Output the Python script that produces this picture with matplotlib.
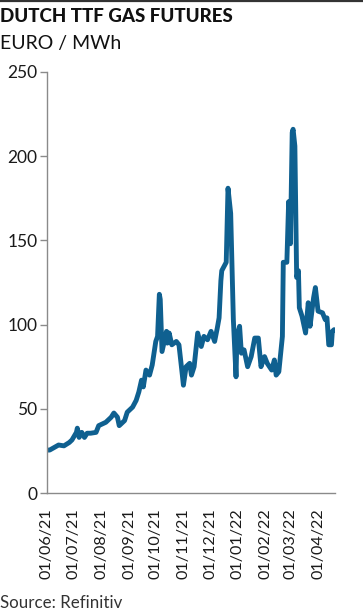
import numpy as np
import pandas as pd
import matplotlib
matplotlib.use("Agg")
import matplotlib.pyplot as plt
import matplotlib.dates as mdates
from matplotlib.lines import Line2D

plt.rcParams['font.family'] = ['Lato', 'DejaVu Sans']

# TTF front-month price, EUR/MWh
dates = ["2021-06-01", "2021-06-04", "2021-06-09", "2021-06-14", "2021-06-20", "2021-06-26",
         "2021-06-29", "2021-07-04", "2021-07-05", "2021-07-07", "2021-07-10", "2021-07-13",
         "2021-07-16", "2021-07-20", "2021-07-26", "2021-07-29", "2021-08-06", "2021-08-12",
         "2021-08-15", "2021-08-19", "2021-08-21", "2021-08-27", "2021-08-30", "2021-09-05",
         "2021-09-09", "2021-09-12", "2021-09-15", "2021-09-17", "2021-09-20", "2021-09-24",
         "2021-09-27", "2021-09-29", "2021-10-01", "2021-10-03", "2021-10-05", "2021-10-06",
         "2021-10-08", "2021-10-13", "2021-10-14", "2021-10-16", "2021-10-19", "2021-10-24",
         "2021-10-27", "2021-10-31", "2021-11-01", "2021-11-04", "2021-11-08", "2021-11-10",
         "2021-11-13", "2021-11-17", "2021-11-21", "2021-11-24", "2021-11-28", "2021-12-02",
         "2021-12-06", "2021-12-09", "2021-12-11", "2021-12-13", "2021-12-14", "2021-12-19",
         "2021-12-21", "2021-12-24", "2021-12-27", "2021-12-30", "2021-12-31", "2022-01-03",
         "2022-01-05", "2022-01-08", "2022-01-12", "2022-01-16", "2022-01-20", "2022-01-24",
         "2022-01-27", "2022-01-31", "2022-02-03", "2022-02-08", "2022-02-11", "2022-02-13",
         "2022-02-16", "2022-02-20", "2022-02-21", "2022-02-25", "2022-02-27", "2022-03-01",
         "2022-03-03", "2022-03-04", "2022-03-06", "2022-03-08", "2022-03-10", "2022-03-11",
         "2022-03-14", "2022-03-18", "2022-03-21", "2022-03-23", "2022-03-27", "2022-03-29",
         "2022-04-01", "2022-04-06", "2022-04-09", "2022-04-11", "2022-04-13", "2022-04-16",
         "2022-04-17", "2022-04-19"]
prices = [25.5, 25.5, 27, 28.5, 28, 30,
          31.5, 36, 38.5, 33, 36, 33,
          35.5, 35.5, 36, 40, 42, 45,
          47.5, 45, 40, 43, 48, 51,
          55, 60, 67, 63, 73, 70,
          76, 83, 90, 93, 118, 115,
          84, 96, 89, 95, 88, 90,
          88, 69, 64, 75, 77, 70,
          75, 95, 87, 93, 91, 96,
          90, 98, 104, 126, 132, 137,
          181, 166, 103, 69, 93, 99,
          83, 85, 75, 81, 92, 92,
          75, 81, 77, 73, 79, 70,
          72, 93, 137, 137, 173, 148,
          214, 216, 206, 128, 132, 110,
          105, 95, 113, 99, 116, 122,
          108, 107, 103, 104, 88, 88,
          96, 97]

month_ticks = ["2021-06-01", "2021-07-01", "2021-08-01", "2021-09-01", "2021-10-01",
               "2021-11-01", "2021-12-01", "2022-01-01", "2022-02-01", "2022-03-01",
               "2022-04-01"]
y_ticks = [0, 50, 100, 150, 200, 250]

df = pd.DataFrame({"date": pd.to_datetime(dates), "price": prices})

fig = plt.figure(figsize=(3.63, 6.16), dpi=100)
ax = fig.add_axes([47 / 363, 123 / 616, 288 / 363, 421 / 616])

ax.plot(df["date"], df["price"], color="#0f6090", lw=3.5, solid_joinstyle="round",
        solid_capstyle="round")

ax.set_ylim(0, 250)
ax.set_xlim(pd.Timestamp("2021-06-01"), pd.Timestamp("2022-04-20"))
ax.set_yticks(y_ticks)
ax.set_xticks(pd.to_datetime(month_ticks))
ax.xaxis.set_major_formatter(mdates.DateFormatter("%d/%m/%y"))

for s in ["top", "right"]:
    ax.spines[s].set_visible(False)
for s in ["left", "bottom"]:
    ax.spines[s].set_color("#8a8a8a")
    ax.spines[s].set_linewidth(1.0)

ax.tick_params(axis="y", length=5, width=1, color="#8a8a8a", labelsize=12.5,
               labelcolor="#1a1a1a", pad=2)
ax.tick_params(axis="x", length=0, labelsize=11.6, labelcolor="#1a1a1a", pad=11,
               labelrotation=90)

fig.text(0.0, 1 - 17 / 616, "DUTCH TTF GAS FUTURES", fontsize=13.5, fontweight="black",
         color="#111111", va="center", ha="left")
fig.text(0.0, 1 - 43 / 616, "EURO / MWh", fontsize=14, color="#111111",
         va="center", ha="left")
fig.text(0.0, 1 - 603 / 616, "Source: Refinitiv", fontsize=12.2, color="#333333",
         va="center", ha="left")
fig.add_artist(Line2D([0, 1], [1 - 1 / 616, 1 - 1 / 616], transform=fig.transFigure,
                      color="#333333", lw=1.6))

fig.savefig("out.png", dpi=100)
